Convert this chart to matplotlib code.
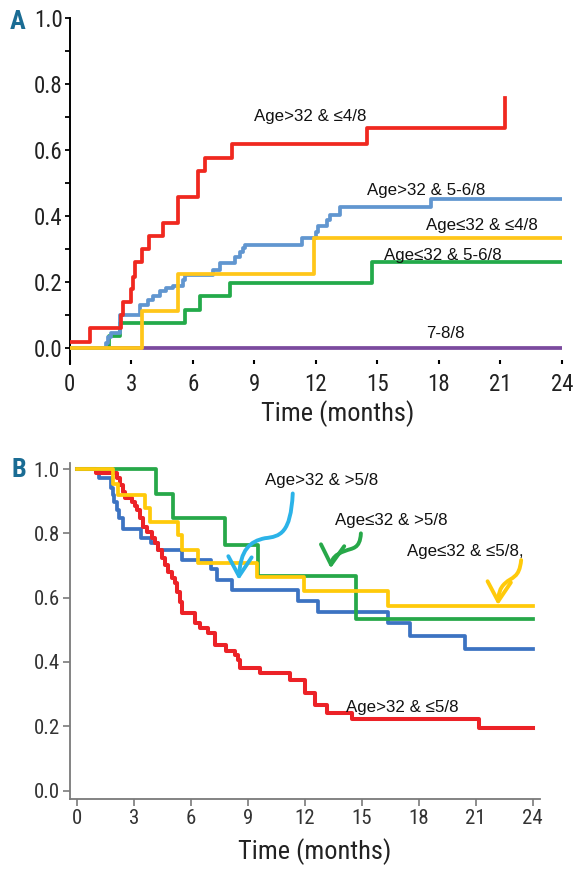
import matplotlib
matplotlib.use("Agg")
import matplotlib.pyplot as plt
from matplotlib import font_manager
from matplotlib.path import Path
from matplotlib.patches import FancyArrowPatch
from matplotlib.ticker import MultipleLocator

# ---------------- data: panel A (cumulative incidence) ----------------
a_red_t = [0, 1.0, 2.5, 2.57, 3.0, 3.09, 3.17, 3.54, 3.87, 4.55, 5.3, 6.26, 6.57, 7.91, 14.5, 21.24]
a_red_v = [0.018, 0.059, 0.10, 0.138, 0.177, 0.216, 0.26, 0.299, 0.339, 0.378, 0.458, 0.537, 0.577, 0.617, 0.666, 0.759]

a_blue_t = [0, 1.75, 1.85, 2.0, 2.44, 3.41, 3.82, 4.07, 4.39, 4.71, 5.04, 5.5, 5.6, 7.0, 7.32,
            8.05, 8.3, 8.45, 8.54, 11.3, 12.0, 12.1, 12.52, 12.68, 13.17, 17.6, 24]
a_blue_v = [0, 0.015, 0.033, 0.044, 0.10, 0.13, 0.145, 0.156, 0.171, 0.181, 0.188, 0.205, 0.222, 0.237, 0.258,
            0.276, 0.29, 0.303, 0.313, 0.332, 0.352, 0.369, 0.388, 0.403, 0.428, 0.45, 0.45]

a_yellow_t = [0, 3.54, 5.28, 11.92, 24]
a_yellow_v = [0, 0.111, 0.224, 0.333, 0.333]

a_green_t = [0, 1.92, 2.44, 5.61, 6.34, 7.8, 14.72, 24]
a_green_v = [0, 0.037, 0.074, 0.115, 0.156, 0.196, 0.26, 0.26]

a_purple_t = [0, 24]
a_purple_v = [0, 0]

a_labels = ["Age>32 & \u22644/8", "Age>32 & 5-6/8", "Age\u226432 & \u22644/8", "Age\u226432 & 5-6/8", "7-8/8"]

# ---------------- data: panel B (survival) ----------------
b_yellow_t = [0, 1.91, 2.17, 3.58, 3.84, 5.33, 5.51, 6.39, 9.5, 11.93, 16.36, 24]
b_yellow_v = [1.0, 0.955, 0.919, 0.878, 0.836, 0.795, 0.748, 0.709, 0.663, 0.62, 0.573, 0.573]

b_green_t = [0, 4.16, 5.07, 7.79, 9.52, 14.69, 24]
b_green_v = [1.0, 0.921, 0.847, 0.764, 0.667, 0.534, 0.534]

b_blue_t = [0, 1.15, 1.78, 1.87, 1.96, 2.1, 2.22, 2.43, 3.35, 3.9, 4.28, 5.52, 7.08, 7.36, 8.14,
            11.64, 12.7, 16.38, 17.55, 20.43, 24]
b_blue_v = [1.0, 0.971, 0.94, 0.919, 0.898, 0.873, 0.847, 0.813, 0.785, 0.769, 0.748, 0.718, 0.688, 0.656, 0.625,
            0.59, 0.554, 0.52, 0.48, 0.441, 0.441]

b_red_t = [0, 1.0, 2.08, 2.26, 2.43, 2.52, 2.88, 3.05, 3.14, 3.31, 3.49, 3.7, 3.93, 4.1, 4.28, 4.46, 4.63,
           4.8, 4.98, 5.16, 5.28, 5.42, 5.5, 6.21, 6.48, 6.91, 7.27, 7.85, 8.32, 8.45, 8.58, 9.64, 11.22,
           12.0, 12.53, 13.15, 14.47, 21.19, 24]
b_red_v = [1.0, 0.987, 0.971, 0.95, 0.93, 0.909, 0.898, 0.886, 0.873, 0.847, 0.821, 0.803, 0.785, 0.769, 0.748,
           0.722, 0.702, 0.681, 0.66, 0.645, 0.619, 0.588, 0.553, 0.522, 0.505, 0.489, 0.453, 0.435, 0.422,
           0.405, 0.382, 0.365, 0.344, 0.305, 0.265, 0.242, 0.224, 0.194, 0.194]

b_labels = ["Age>32 & >5/8", "Age\u226432 & >5/8", "Age\u226432 & \u22645/8,", "Age>32 & \u22645/8"]

x_ticks = [0, 3, 6, 9, 12, 15, 18, 21, 24]
y_ticks = [0.0, 0.2, 0.4, 0.6, 0.8, 1.0]

# ---------------- fonts ----------------
names = {f.name for f in font_manager.fontManager.ttflist}
cond = None
for cand in ["Liberation Sans Narrow", "DejaVu Sans Condensed", "Roboto Condensed", "Open Sans Condensed"]:
    if cand in names:
        cond = cand
        break
if cond is None:
    cond = "Liberation Sans"
COND = [cond, "DejaVu Sans"]
ARIAL = ["Liberation Sans", "DejaVu Sans"]
plt.rcParams["font.family"] = ARIAL

W, H = 576, 869
fig = plt.figure(figsize=(W / 100, H / 100), dpi=100)


def fx(x):
    return x / W


def fy(y):
    return 1 - y / H


# ---------------- Panel A ----------------
axA = fig.add_axes([fx(69.8), fy(364), fx(562) - fx(69.8), fy(18.3) - fy(364)])
axA.set_xlim(0, 24)
axA.set_ylim(-0.0495, 1.0)
for s in ["top", "right", "bottom"]:
    axA.spines[s].set_visible(False)
axA.spines["left"].set_linewidth(1.4)
axA.spines["left"].set_color("black")
axA.set_xticks(x_ticks)
axA.set_yticks(y_ticks)
axA.yaxis.set_minor_locator(MultipleLocator(0.1))
axA.set_yticklabels([f"{v:.1f}" for v in y_ticks], fontfamily=COND, fontsize=16.5, color="#222222")
axA.set_xticklabels([str(v) for v in x_ticks], fontfamily=COND, fontsize=16.5, color="#222222")
axA.tick_params(axis="y", which="major", direction="out", length=3.5, width=1.3, pad=1.5)
axA.tick_params(axis="y", which="minor", direction="out", length=3.5, width=1.3)
axA.tick_params(axis="x", direction="in", length=3, width=1.5, pad=6.5)

lwA = 2.7
axA.step(a_purple_t, a_purple_v, where="post", color="#7b4a9e", lw=lwA, zorder=2)
axA.step(a_blue_t, a_blue_v, where="post", color="#6196d0", lw=lwA, zorder=3)
axA.step(a_green_t, a_green_v, where="post", color="#23aa4a", lw=lwA, zorder=2.5)
axA.step(a_yellow_t, a_yellow_v, where="post", color="#ffc61a", lw=lwA, zorder=4)
axA.step(a_red_t, a_red_v, where="post", color="#f0281f", lw=lwA, zorder=5)

a_lab_pos = [(310.5, 120.7), (426, 195), (482, 230), (443, 260), (445, 338.3)]
for txt, (px, py) in zip(a_labels, a_lab_pos):
    fig.text(fx(px), fy(py), txt, ha="center", va="baseline", fontsize=12.2,
             fontfamily=ARIAL, color="#111111")

fig.text(fx(338), fy(414), "Time (months)", ha="center", va="center", fontsize=19,
         fontfamily=COND, color="#222222")
fig.text(fx(18), fy(22), "A", ha="center", va="center", fontsize=19, fontweight="bold",
         fontfamily=COND, color="#1a6c94")

# ---------------- Panel B ----------------
axB = fig.add_axes([fx(69.5), fy(799), fx(540.3) - fx(69.5), fy(462.6) - fy(799)])
axB.set_xlim(-0.4, 24.4)
axB.set_ylim(-0.026, 1.02)
for s in ["top", "right"]:
    axB.spines[s].set_visible(False)
for s in ["left", "bottom"]:
    axB.spines[s].set_color("#7a7a7a")
    axB.spines[s].set_linewidth(1.3)
axB.set_xticks(x_ticks)
axB.set_yticks(y_ticks)
axB.set_yticklabels([f"{v:.1f}" for v in y_ticks], fontfamily=COND, fontsize=15, color="#333333")
axB.set_xticklabels([str(v) for v in x_ticks], fontfamily=COND, fontsize=15, color="#333333")
axB.tick_params(axis="both", direction="out", length=5, width=1.2, color="#7a7a7a", pad=2)

lwB = 2.7
axB.step(b_blue_t, b_blue_v, where="post", color="#3c73c2", lw=lwB, zorder=2)
axB.step(b_red_t, b_red_v, where="post", color="#ec2227", lw=lwB + 0.2, zorder=3)
axB.step(b_green_t, b_green_v, where="post", color="#27a849", lw=lwB, zorder=4)
axB.step(b_yellow_t, b_yellow_v, where="post", color="#ffca0a", lw=lwB, zorder=5)

b_lab_pos = [(322, 485), (391, 525), (465, 556), (402, 711.7)]
for txt, (px, py) in zip(b_labels, b_lab_pos):
    fig.text(fx(px), fy(py), txt, ha="center", va="baseline", fontsize=12.2,
             fontfamily=ARIAL, color="#111111", zorder=10)

# curved annotation arrows (decorations, in data coordinates of panel B)
C4 = Path.CURVE4
arrows = [
    ("#2bb3e8", [(11.36, 0.924), (11.25, 0.80), (10.7, 0.79), (9.9, 0.785),
                 (9.1, 0.775), (8.6, 0.75), (8.52, 0.655)]),
    ("#27a849", [(14.95, 0.80), (14.9, 0.75), (14.5, 0.755), (14.1, 0.745),
                 (13.6, 0.735), (13.4, 0.72), (13.36, 0.691)]),
    ("#ffca0a", [(23.39, 0.717), (23.3, 0.66), (22.9, 0.665), (22.55, 0.645),
                 (22.25, 0.63), (22.2, 0.61), (22.17, 0.577)]),
]
for col, verts in arrows:
    codes = [Path.MOVETO, C4, C4, C4, C4, C4, C4]
    p = FancyArrowPatch(path=Path(verts, codes), transform=axB.transData,
                        arrowstyle="->,head_length=0.7,head_width=0.42",
                        mutation_scale=20, color=col, lw=2.8, zorder=9,
                        clip_on=False)
    axB.add_patch(p)

fig.text(fx(314.7), fy(852), "Time (months)", ha="center", va="center", fontsize=19,
         fontfamily=COND, color="#222222")
fig.text(fx(18.5), fy(470), "B", ha="center", va="center", fontsize=19, fontweight="bold",
         fontfamily=COND, color="#1a6c94")

fig.savefig("out.png", dpi=100)
